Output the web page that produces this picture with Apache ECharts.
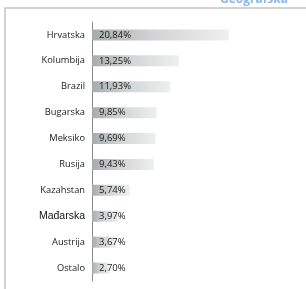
<!DOCTYPE html>
<html>
<head>
<meta charset="utf-8">
<script src="https://cdn.jsdelivr.net/npm/echarts@6/dist/echarts.min.js"></script>
<style>
  html, body { margin: 0; padding: 0; background: #fff; }
  #chart { width: 306px; height: 289px; }
</style>
</head>
<body>
<div id="chart"></div>
<script>
// country shares, top to bottom
const countries = ['Hrvatska', 'Kolumbija', 'Brazil', 'Bugarska', 'Meksiko', 'Rusija', 'Kazahstan', 'Mađarska', 'Austrija', 'Ostalo']
const shares = [20.84, 13.25, 11.93, 9.85, 9.69, 9.43, 5.74, 3.97, 3.67, 2.70]
const titleText = 'Geografska'

const chart = echarts.init(document.getElementById('chart'))

const fmt = v => v.toFixed(2).replace('.', ',') + '%'

chart.setOption({
  animation: false,
  textStyle: { fontFamily: 'Open Sans' },
  graphic: [
    {
      type: 'rect',
      shape: { x: 5, y: 8, width: 420, height: 400 },
      style: { fill: 'none', stroke: '#c4c4c4', lineWidth: 1.5 },
      silent: true
    },
    {
      type: 'text',
      right: 18,
      top: -6,
      style: { text: titleText, fill: '#8fb6e6', font: 'bold 12px "Open Sans"' }
    }
  ],
  grid: { left: 92, top: 22, width: 197, height: 259 },
  xAxis: { type: 'value', min: 0, max: 30, show: false },
  yAxis: {
    type: 'category',
    inverse: true,
    data: countries,
    axisLine: { lineStyle: { color: '#8a8a8a', width: 1 } },
    axisTick: { length: 3, lineStyle: { color: '#8a8a8a' } },
    axisLabel: {
      color: '#1a1a1a',
      fontSize: 9.3,
      margin: 7,
      formatter: v => v === 'Mađarska' ? '{big|' + v + '}' : v,
      rich: { big: { fontSize: 10.5, color: '#111', fontFamily: 'Liberation Sans' } }
    }
  },
  series: [{
    type: 'bar',
    data: shares,
    barWidth: 11,
    itemStyle: {
      color: new echarts.graphic.LinearGradient(0, 0, 1, 0, [
        { offset: 0, color: '#a6abab' },
        { offset: 0.45, color: '#d2d5d5' },
        { offset: 1, color: '#eef0f0' }
      ])
    },
    label: {
      show: true,
      position: 'insideLeft',
      offset: [2, 0],
      color: '#1a1a1a',
      fontSize: 9.5,
      formatter: p => fmt(p.value)
    }
  }]
})
</script>
</body>
</html>
